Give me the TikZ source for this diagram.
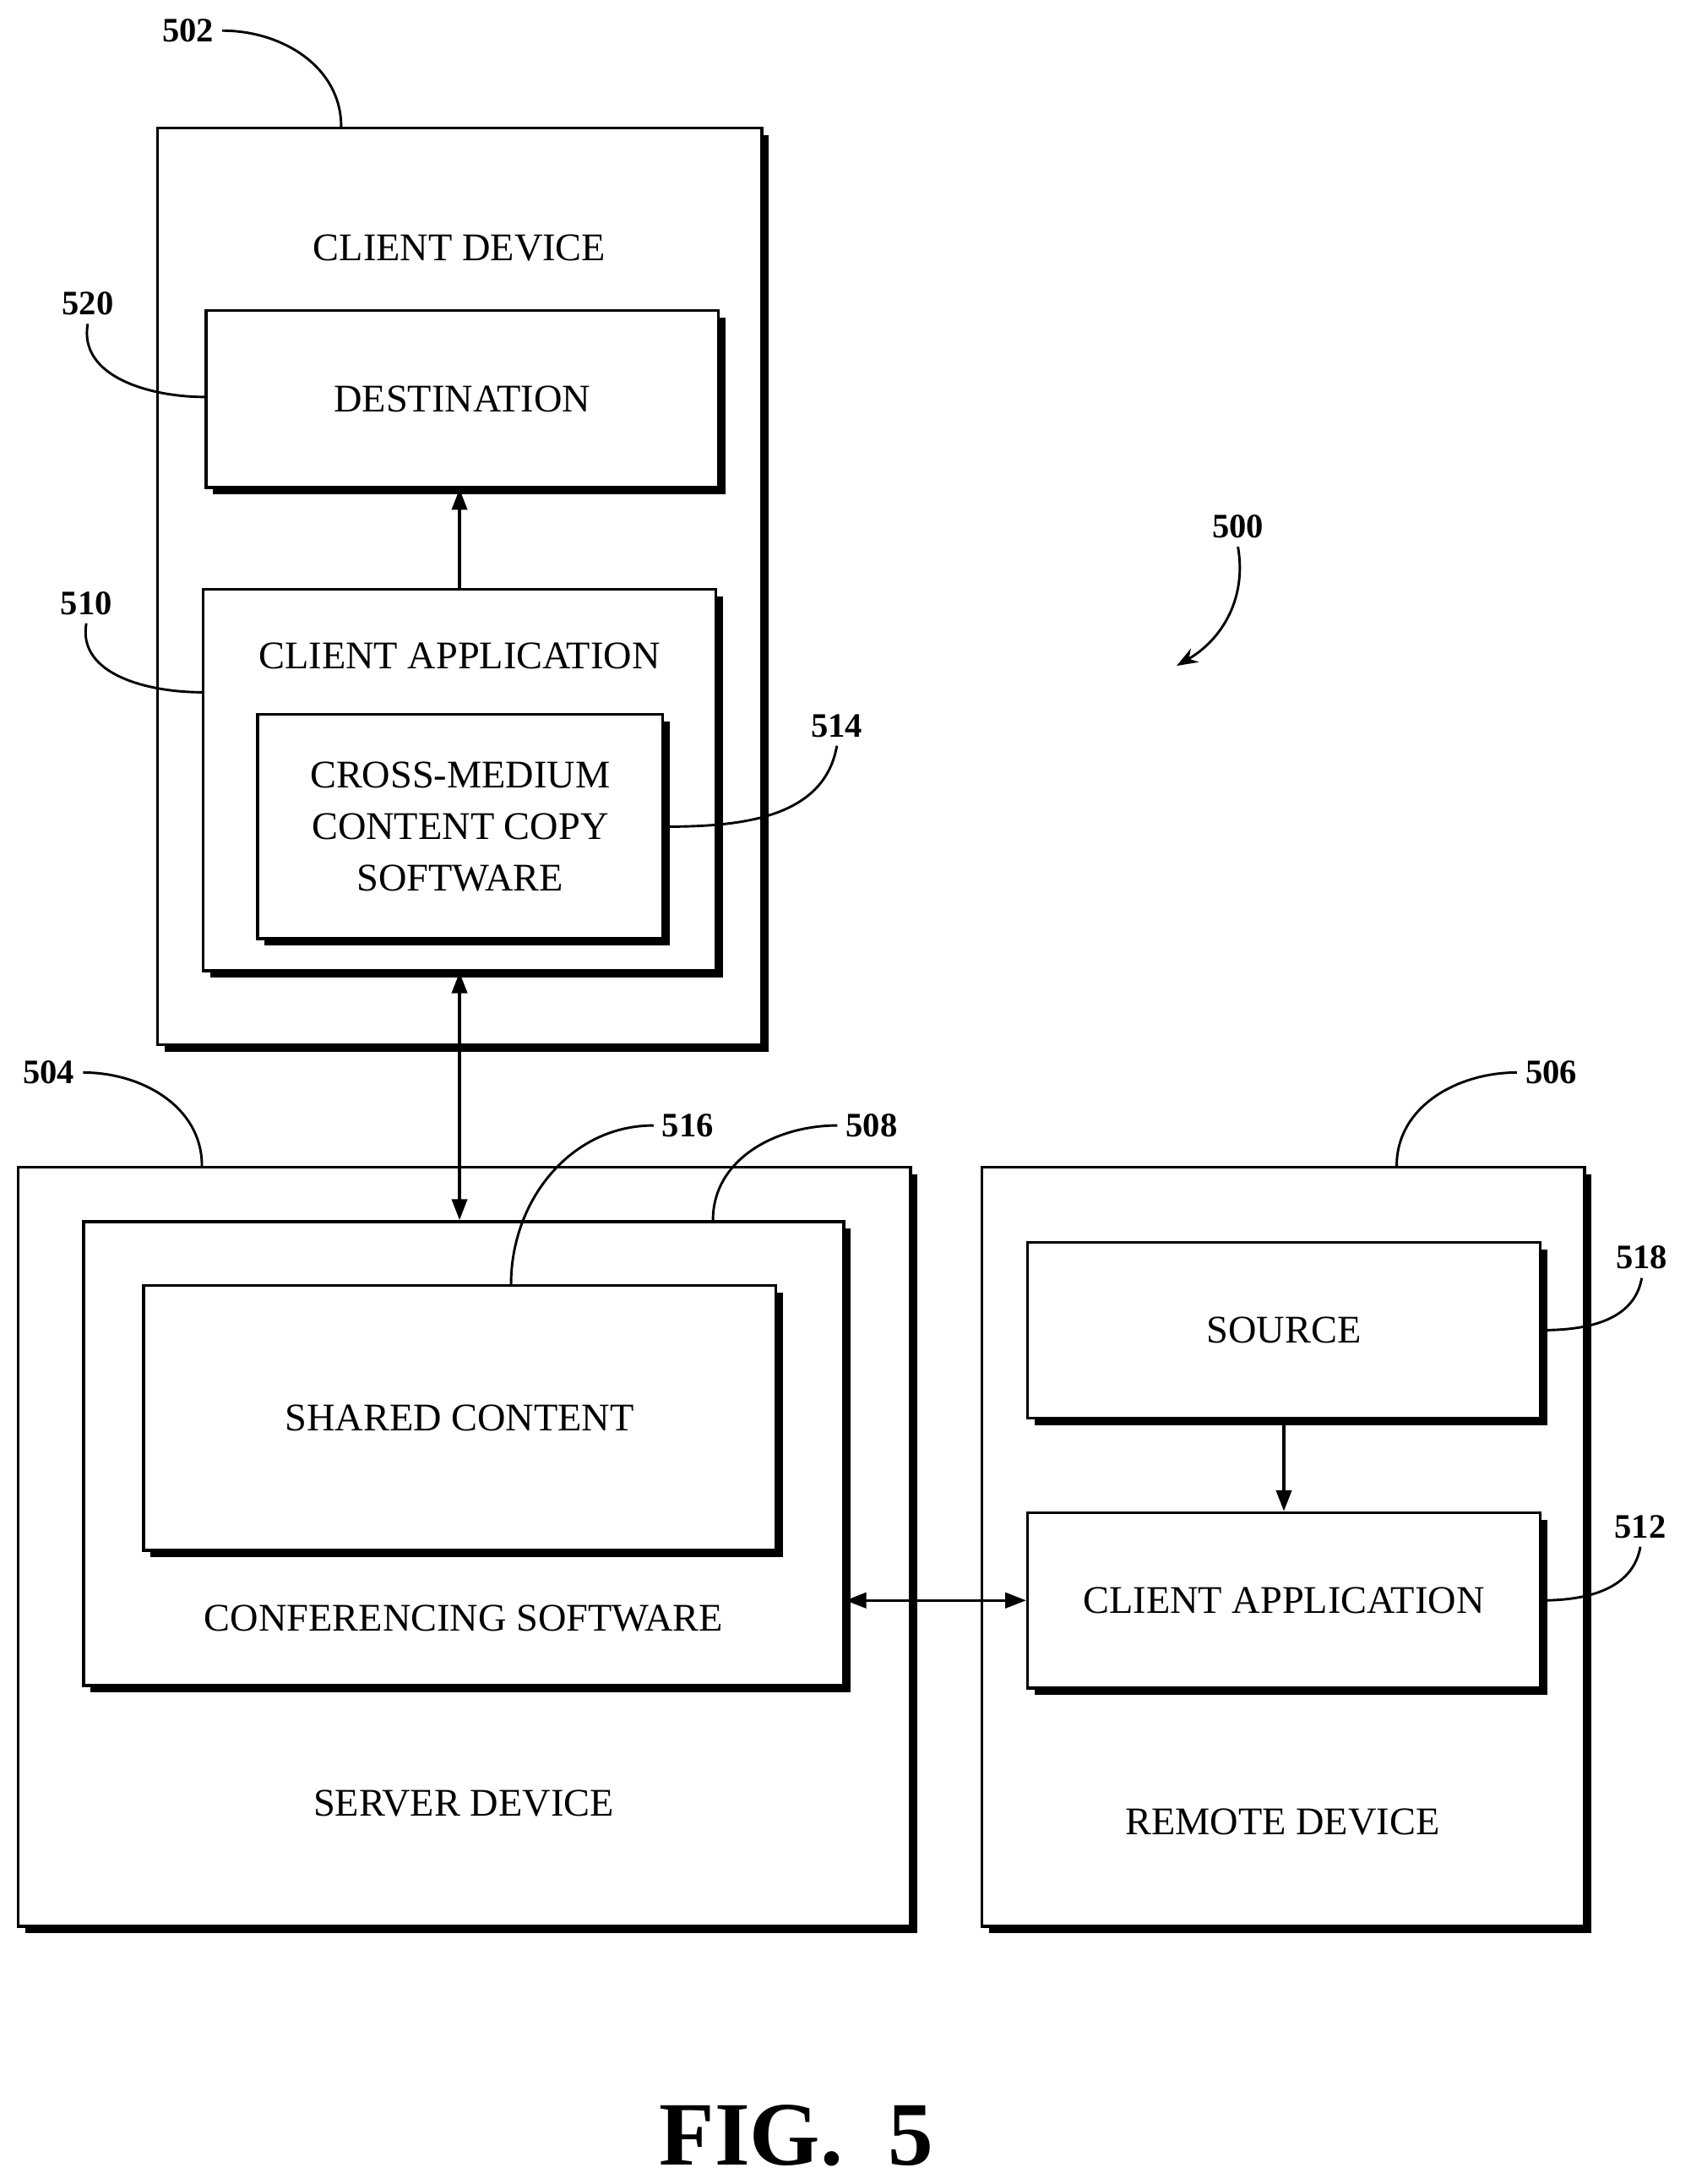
\documentclass[tikz,border=0pt]{standalone}
\usepackage{fontspec}
\setmainfont{Liberation Serif}
\usetikzlibrary{shadows,arrows.meta,positioning}

\tikzset{
  box/.style={draw,line width=1.2pt,fill=white,inner sep=0pt,
    drop shadow={shadow xshift=1mm,shadow yshift=-1mm,fill=black,opacity=1}},
  txt/.style={font=\fontsize{16}{21}\selectfont,align=center},
  num/.style={font=\bfseries\fontsize{14}{16}\selectfont},
  lead/.style={line width=1pt},
  arr/.style={line width=1.2pt,-{Triangle[length=3mm,width=2.2mm]}},
  darr/.style={line width=1.2pt,{Triangle[length=3mm,width=2.2mm]}-{Triangle[length=3mm,width=2.2mm]}}
}

\begin{document}
\begin{tikzpicture}[x=0.2mm,y=-0.2mm]
\useasboundingbox (0,0) rectangle (1214,1568);
% client device
\node[box,minimum width=86.8mm,minimum height=131.6mm] (cd) at (330,421) {};
\node[txt] (cdt) at (330,178) {CLIENT DEVICE};
\node[box,txt,minimum width=73.6mm,minimum height=25.4mm] (dest) at (332,286.5) {DESTINATION};
\node[box,minimum width=73.6mm,minimum height=54.8mm] (ca1) at (330,560) {};
\node[txt] (ca1t) at (330,471) {CLIENT APPLICATION};
\node[box,txt,minimum width=58.2mm,minimum height=32.2mm] (cmc) at (330.5,593.5) {CROSS-MEDIUM\\CONTENT COPY\\SOFTWARE};
% server device
\node[box,minimum width=128.2mm,minimum height=109mm] (srv) at (333.5,1110.5) {};
\node[txt] (srvt) at (333,1295) {SERVER DEVICE};
\node[box,minimum width=109.2mm,minimum height=66.6mm] (conf) at (333,1043.5) {};
\node[txt] (conft) at (333,1162) {CONFERENCING SOFTWARE};
\node[box,txt,minimum width=90.8mm,minimum height=38mm] (shc) at (330,1018) {SHARED CONTENT};
% remote device
\node[box,minimum width=86.6mm,minimum height=109mm] (rem) at (921.5,1110.5) {};
\node[txt] (remt) at (921,1308) {REMOTE DEVICE};
\node[box,txt,minimum width=73.6mm,minimum height=25.2mm] (src) at (922,955) {SOURCE};
\node[box,txt,minimum width=73.6mm,minimum height=25.2mm] (ca2) at (922,1149) {CLIENT APPLICATION};
% connectors
\draw[arr] (ca1.north) -- (ca1.north |- dest.south);
\draw[darr] (ca1.south) -- (ca1.south |- conf.north);
\draw[arr] (src.south) -- (src.south |- ca2.north);
\draw[darr] (conf.east |- ca2.west) -- (ca2.west);
% reference numerals
\node[num] (n502) at (135,22) {502};
\node[num] (n520) at (63,218) {520};
\node[num] (n510) at (62,433) {510};
\node[num] (n514) at (601,521) {514};
\node[num] (n504) at (35,770) {504};
\node[num] (n516) at (494,808) {516};
\node[num] (n508) at (626,808) {508};
\node[num] (n506) at (1114,770) {506};
\node[num] (n518) at (1179,903) {518};
\node[num] (n512) at (1178,1096) {512};
\node[num] (n500) at (889,378) {500};
\coordinate (c500) at (845,478);
\draw[lead] (n502.east) to[out=0,in=90] (cd.north -| 245,0);
\draw[lead] (n520.south) to[out=-100,in=180] (dest.west |- 0,285);
\draw[lead] (n510.south) to[out=-100,in=180] (ca1.west |- 0,497);
\draw[lead] (n514.south) to[out=-100,in=0] (cmc.east);
\draw[lead] (n504.east) to[out=0,in=90] (srv.north -| 145,0);
\draw[lead] (n516.west) to[out=180,in=90] (shc.north -| 367,0);
\draw[lead] (n508.west) to[out=180,in=90] (conf.north -| 512,0);
\draw[lead] (n506.west) to[out=180,in=90] (rem.north -| 1003,0);
\draw[lead] (n518.south) to[out=-100,in=0] (src.east);
\draw[lead] (n512.south) to[out=-100,in=0] (ca2.east);
\draw[lead,-{Stealth[length=3mm]}] (n500.south) to[out=-80,in=30] (c500);
\node[font=\bfseries\fontsize{37}{40}\selectfont] (fig) at (572,1533) {FIG.\ \ 5};
\end{tikzpicture}
\end{document}
